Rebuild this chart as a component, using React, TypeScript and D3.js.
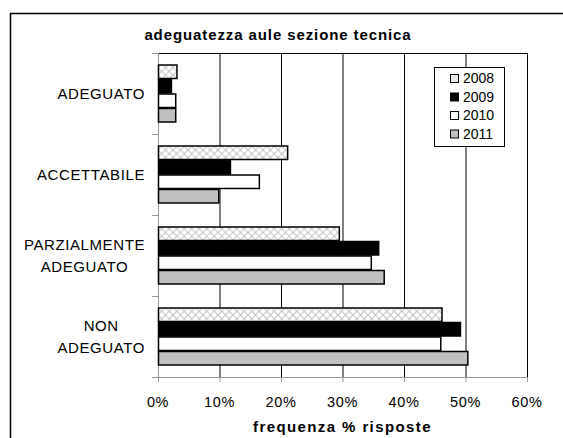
import React from "react";
import * as d3 from "d3";

const categories = [["ADEGUATO"], ["ACCETTABILE"], ["PARZIALMENTE", "ADEGUATO"], ["NON", "ADEGUATO"]];
const series = ["2008", "2009", "2010", "2011"];
const v2008 = [3.0, 21.0, 29.4, 46.1];
const v2009 = [2.1, 11.7, 35.8, 49.1];
const v2010 = [2.8, 16.4, 34.6, 45.9];
const v2011 = [2.8, 9.8, 36.7, 50.3];
const xTicks = [0, 10, 20, 30, 40, 50, 60];
const title = "adeguatezza aule sezione tecnica";
const xTitle = "frequenza % risposte";

const values = [v2008, v2009, v2010, v2011];
const fills = ["url(#xhatch)", "#000000", "#ffffff", "#c0c0c0"];
const FONT = "Arial, 'Liberation Sans', sans-serif";

function measure(text: string, font: string, spacing = 0) {
  const c = document.createElement("canvas").getContext("2d")!;
  c.font = font;
  return c.measureText(text).width + spacing * text.length;
}

export default function App() {
  const W = 563, H = 438;
  const left = 158, right = 527, top = 53, bottom = 377;
  const x = d3.scaleLinear().domain([0, 60]).range([left, right]);
  const y = d3.scaleBand<number>().domain(d3.range(categories.length)).range([top, bottom]).paddingInner(0.284).paddingOuter(0.142);
  const ys = d3.scaleBand<number>().domain(d3.range(series.length)).range([0, y.bandwidth()]);
  const step = (bottom - top) / categories.length;
  const labFont = `15px ${FONT}`;
  const labRight = 145;
  return (
    <svg width={W} height={H} style={{ position: "absolute", left: 0, top: 0, background: "#fff" }} fontFamily={FONT}>
      <defs>
        <pattern id="xhatch" width="7.5" height="7.5" patternUnits="userSpaceOnUse" x={left} y={0}>
          <rect width="7.5" height="7.5" fill="#fff" />
          <path d="M0,0 L7.5,7.5 M7.5,0 L0,7.5" stroke="#c4c4c4" strokeWidth="1" />
        </pattern>
      </defs>
      <rect x={0} y={0} width={W} height={H} fill="#fff" />
      <path d={`M10.5,${H} V13.5 H${W}`} fill="none" stroke="#000" strokeWidth={1.5} />
      <text x={278} y={40} textAnchor="middle" fontWeight="bold" fontSize={15} letterSpacing={0.9}>{title}</text>
      {/* gridlines */}
      {xTicks.slice(1).map((t) => (
        <line key={t} x1={x(t) + 0.5} x2={x(t) + 0.5} y1={top} y2={bottom} stroke="#000" strokeWidth={1} />
      ))}
      <line x1={left} x2={right} y1={top + 0.5} y2={top + 0.5} stroke="#000" strokeWidth={1} />
      {/* axes */}
      <line x1={left + 0.5} x2={left + 0.5} y1={top} y2={bottom} stroke="#999" />
      <line x1={left} x2={right + 1} y1={bottom + 0.5} y2={bottom + 0.5} stroke="#999" />
      {d3.range(categories.length + 1).map((i) => (
        <line key={i} x1={left - 6} x2={left} y1={top + i * step + 0.5} y2={top + i * step + 0.5} stroke="#999" />
      ))}
      {xTicks.map((t) => (
        <g key={t}>
          <line x1={x(t) + 0.5} x2={x(t) + 0.5} y1={bottom} y2={bottom + 5} stroke="#999" />
          <text x={x(t)} y={407} textAnchor="middle" fontSize={14.5} letterSpacing={0.6}>{t}%</text>
        </g>
      ))}
      {/* bars */}
      {categories.map((cat, ci) =>
        series.map((s, si) => (
          <rect
            key={ci + "-" + si}
            x={x(0) + 0.5}
            y={(y(ci) as number) + (ys(si) as number) + 0.5}
            width={x(values[si][ci]) - x(0)}
            height={ys.bandwidth() - 1}
            fill={fills[si]}
            stroke="#000"
            strokeWidth={1.5}
          />
        ))
      )}
      {/* category labels */}
      {categories.map((lines, ci) => {
        const bw = Math.max(...lines.map((l) => measure(l, labFont, 0.6)));
        const cx = labRight - bw / 2;
        const cy = top + ci * step + step / 2;
        const lh = 22;
        return lines.map((l, li) => (
          <text key={ci + "-" + li} x={cx} y={cy + (li - (lines.length - 1) / 2) * lh + 5} textAnchor="middle" fontSize={15} letterSpacing={0.6}>{l}</text>
        ));
      })}
      {/* legend */}
      <rect x={434.5} y={67.5} width={70} height={79} fill="#fff" stroke="#000" />
      {series.map((s, si) => (
        <g key={s}>
          <rect x={450.5} y={74.5 + si * 18.5} width={8} height={8} fill={si === 0 ? "#e8e8e8" : fills[si]} stroke="#000" />
          <text x={463} y={83 + si * 18.5} fontSize={14}>{s}</text>
        </g>
      ))}
      <text x={(left + right) / 2} y={432} textAnchor="middle" fontWeight="bold" fontSize={15} letterSpacing={1.4}>{xTitle}</text>
    </svg>
  );
}
